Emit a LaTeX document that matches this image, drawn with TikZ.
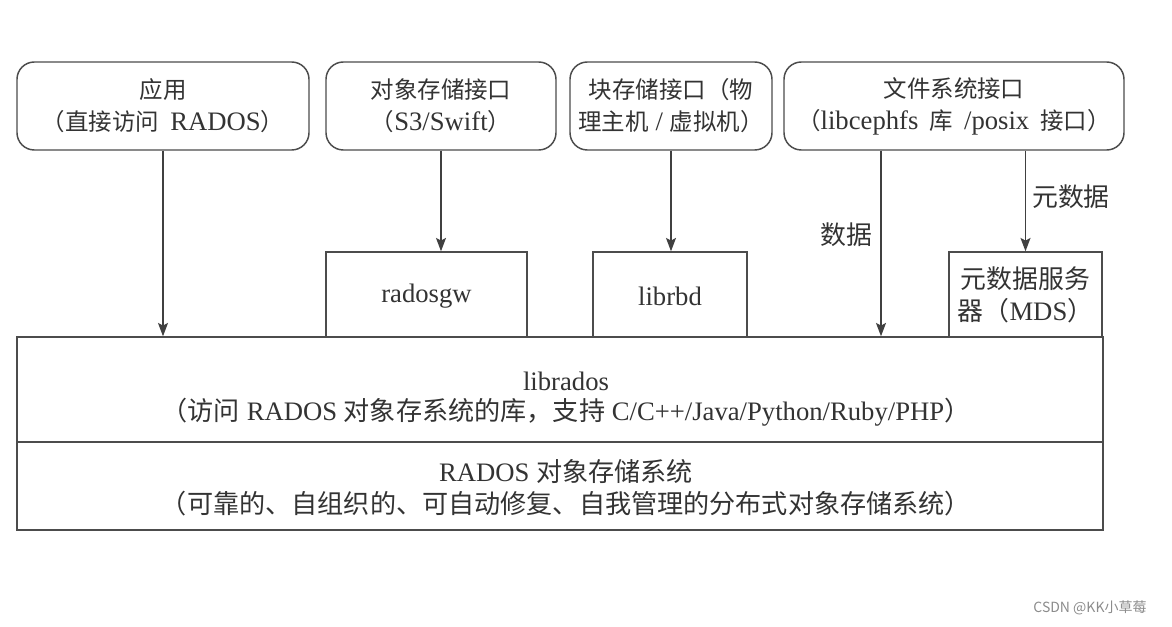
\documentclass[tikz,border=0pt]{standalone}
\usepackage{fontspec}
\setmainfont{Liberation Serif}
\newfontfamily\cjkt[Scale=0.88]{Noto Sans CJK SC}
\newfontfamily\cjkm[Scale=0.97]{Noto Sans CJK SC}
\newfontfamily\cjkb[Scale=0.98]{Noto Sans CJK SC}
\newfontfamily\cjkw{Noto Sans CJK SC}
\usetikzlibrary{arrows.meta,calc}
\begin{document}
\begin{tikzpicture}[x=0.75pt,y=-0.75pt,
  box/.style={draw=black!70,line width=1.1pt,inner sep=0pt,align=center,text=black!80,
    font=\fontsize{20pt}{24pt}\selectfont},
  rbox/.style={box,rounded corners=13pt,minimum height=66pt},
  txt/.style={inner sep=0pt,align=center,text=black!80,font=\fontsize{20pt}{24pt}\selectfont},
  arr/.style={draw=black!75,line width=1.1pt,-{Stealth[length=10pt,width=7.5pt,inset=2pt]}},
  lbl/.style={text=black!80,font=\fontsize{20pt}{24pt}\selectfont\cjkm,inner sep=0pt}]
\useasboundingbox (0,0) rectangle (1172,627);
\fill[white] (0,0) rectangle (1172,627);
% top interfaces
\node[rbox,minimum width=219pt] (app) at (163,106) {{\cjkt 应用}\\{\cjkt （直接访问}\,~RADOS{\cjkt ）}};
\node[rbox,minimum width=172.5pt] (obj) at (441,106) {{\cjkt 对象存储接口}\\{\cjkt （}S3/Swift{\cjkt ）}};
\node[rbox,minimum width=151.5pt] (blk) at (671,106) {{\cjkt 块存储接口（物}\\{\cjkt 理主机}~/~{\cjkt 虚拟机）}};
\node[rbox,minimum width=255pt] (fs) at (954,106) {{\cjkt 文件系统接口}\\{\cjkt （}libcephfs\,~{\cjkt 库}\,~/posix\,~{\cjkt 接口）}};
% middle boxes
\node[box,minimum width=150.75pt,minimum height=63.75pt] (rgw) at (426.5,294.5) {};
\node[txt] (rgwt) at (426.5,296) {radosgw};
\node[box,minimum width=115.5pt,minimum height=63.75pt] (rbd) at (670,294.5) {};
\node[txt] (rbdt) at (670,296) {librbd};
\node[box,minimum width=114.75pt,minimum height=63.75pt] (mds) at (1025.5,294.5) {};
\node[txt] (mdst) at (1025.5,295) {{\cjkm 元数据服务}\\{\cjkm 器（}MDS{\cjkm ）}};
% bottom layers
\node[box,minimum width=814.5pt,minimum height=78.75pt] (lib) at (560,389.5) {};
\node[txt,font=\fontsize{20pt}{22.5pt}\selectfont] (libt) at (566,399) {librados\\{\cjkb （访问}~RADOS~{\cjkb 对象存系统的库，支持}~C/C++/Java/Python/Ruby/PHP{\cjkb ）}};
\node[box,minimum width=814.5pt,minimum height=66pt] (rados) at (560,486) {};
\node[txt] (radost) at (566,488) {RADOS~{\cjkb 对象存储系统}\\{\cjkb （可靠的、自组织的、可自动修复、自我管理的分布式对象存储系统）}};
% connectors
\coordinate (dx) at (881,0);
\draw[arr] (app.south) -- (app.south |- lib.north);
\draw[arr] (obj.south) -- (obj.south |- rgw.north);
\draw[arr] (blk.south) -- (blk.south |- rbd.north);
\draw[arr] (fs.south -| dx) -- (lib.north -| dx);
\draw[arr] (fs.south -| mds.north) -- (mds.north);
\node[lbl] (ld) at (846,235) {数据};
\node[lbl] (lm) at (1071,197) {元数据};
% watermark
\node[text=black!45,font=\fontsize{10.5pt}{12pt}\selectfont\cjkw,inner sep=0pt] (wm) at (1090,608) {CSDN @KK小草莓};
\end{tikzpicture}
\end{document}
